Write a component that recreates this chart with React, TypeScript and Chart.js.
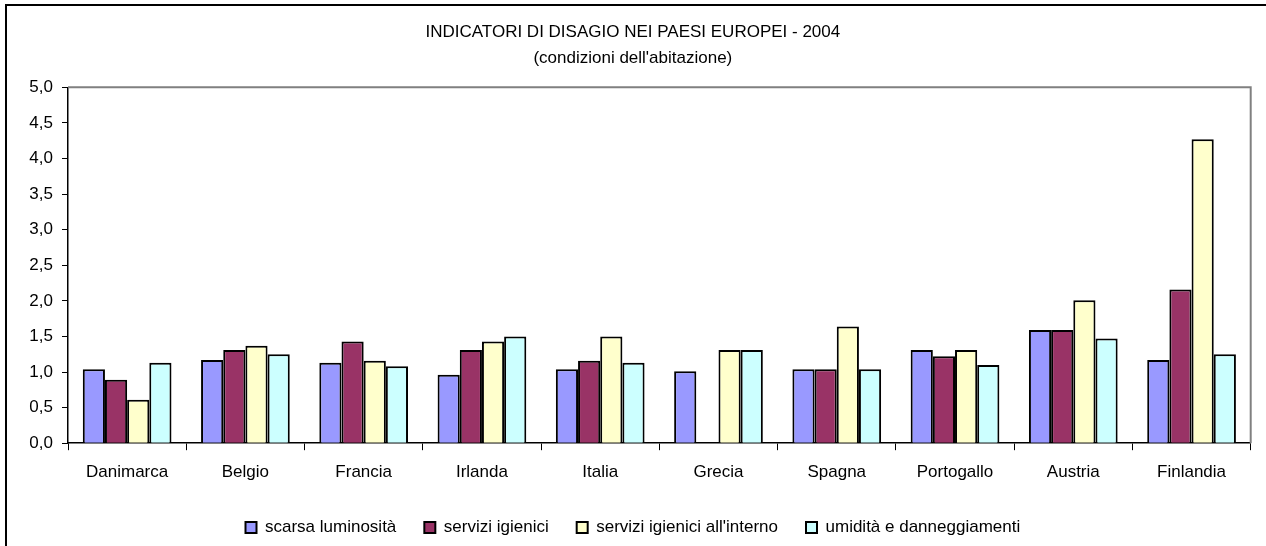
import React, { useEffect, useRef } from "react";
import { Chart, registerables } from "chart.js";

Chart.register(...registerables);

const categories = [
  "Danimarca",
  "Belgio",
  "Francia",
  "Irlanda",
  "Italia",
  "Grecia",
  "Spagna",
  "Portogallo",
  "Austria",
  "Finlandia",
];

const seriesNames = [
  "scarsa luminosità",
  "servizi igienici",
  "servizi igienici all'interno",
  "umidità e danneggiamenti",
];

const scarsaLuminosita = [1.04, 1.17, 1.13, 0.96, 1.04, 1.01, 1.04, 1.31, 1.59, 1.17];
const serviziIgienici = [0.89, 1.31, 1.43, 1.31, 1.16, null, 1.04, 1.22, 1.59, 2.16];
const serviziIgieniciInterno = [0.61, 1.37, 1.16, 1.43, 1.5, 1.31, 1.64, 1.31, 2.01, 4.27];
const umiditaDanneggiamenti = [1.13, 1.25, 1.08, 1.5, 1.13, 1.31, 1.04, 1.1, 1.47, 1.25];

const titleLines = ["INDICATORI DI DISAGIO NEI PAESI EUROPEI - 2004", "(condizioni dell'abitazione)"];

const yMin = 0;
const yMax = 5;
const yStep = 0.5;

const seriesColors = ["#9999FF", "#993366", "#FFFFCC", "#CCFFFF"];

const FONT = "'Liberation Sans', Arial, sans-serif";

const plotFrame = {
  id: "plotFrame",
  afterDatasetsDraw(chart: any) {
    const { ctx, chartArea } = chart;
    ctx.save();
    ctx.strokeStyle = "#808080";
    ctx.lineWidth = 2;
    ctx.beginPath();
    ctx.moveTo(chartArea.left, chartArea.top);
    ctx.lineTo(chartArea.right, chartArea.top);
    ctx.lineTo(chartArea.right, chartArea.bottom);
    ctx.stroke();
    ctx.restore();
  },
};

export default function App() {
  const canvasRef = useRef<HTMLCanvasElement | null>(null);

  useEffect(() => {
    const canvas = canvasRef.current;
    if (!canvas) return;
    const values = [scarsaLuminosita, serviziIgienici, serviziIgieniciInterno, umiditaDanneggiamenti];
    const chart = new Chart(canvas, {
      type: "bar",
      data: {
        labels: categories,
        datasets: seriesNames.map((name, i) => ({
          label: name,
          data: values[i] as any,
          backgroundColor: seriesColors[i],
          borderColor: "#000000",
          borderWidth: 2,
          categoryPercentage: 0.75,
          barPercentage: 1.0,
        })),
      },
      options: {
        animation: false,
        responsive: false,
        maintainAspectRatio: false,
        layout: { padding: { left: 15, right: 15.3, top: 0, bottom: 0 } },
        plugins: {
          tooltip: { enabled: false },
          title: {
            display: true,
            text: titleLines,
            color: "#000",
            font: { family: FONT, size: 17, weight: "normal", lineHeight: 26 / 17 },
            padding: { top: 19, bottom: 16.3 },
          },
          legend: {
            display: true,
            position: "bottom",
            maxHeight: 62.5,
            labels: {
              color: "#000",
              font: { family: FONT, size: 17 },
              boxWidth: 11,
              boxHeight: 11,
              padding: 28,
            },
          } as any,
        },
        scales: {
          x: {
            afterFit: (s: any) => {
              s.height = 47.8;
            },
            grid: {
              display: true,
              offset: true,
              drawOnChartArea: false,
              drawTicks: true,
              tickLength: 7,
              color: "#000",
              lineWidth: 1,
            },
            border: { display: true, color: "#000", width: 1.5 },
            ticks: {
              color: "#000",
              font: { family: FONT, size: 17 },
              padding: 12,
              autoSkip: false,
              maxRotation: 0,
            },
          },
          y: {
            min: yMin,
            max: yMax,
            afterFit: (s: any) => {
              s.width = 53;
            },
            grid: {
              display: true,
              drawOnChartArea: false,
              drawTicks: true,
              tickLength: 6,
              color: "#000",
              lineWidth: 1,
            },
            border: { display: true, color: "#000", width: 1.5 },
            ticks: {
              stepSize: yStep,
              color: "#000",
              font: { family: FONT, size: 17 },
              padding: 9,
              callback: (v: any) => Number(v).toFixed(1).replace(".", ","),
            },
          },
        },
      },
      plugins: [plotFrame],
    });
    return () => chart.destroy();
  }, []);

  return (
    <div
      style={{
        position: "fixed",
        left: 0,
        top: 0,
        width: 1266,
        height: 546,
        overflow: "hidden",
        background: "#fff",
      }}
    >
      <div
        style={{
          position: "absolute",
          left: 5,
          top: 4,
          width: 1400,
          height: 700,
          borderTop: "2px solid #000",
          borderLeft: "2px solid #000",
        }}
      />
      <canvas
        ref={canvasRef}
        width={1266}
        height={546}
        style={{ position: "absolute", left: 0, top: 0, display: "block" }}
      />
    </div>
  );
}
